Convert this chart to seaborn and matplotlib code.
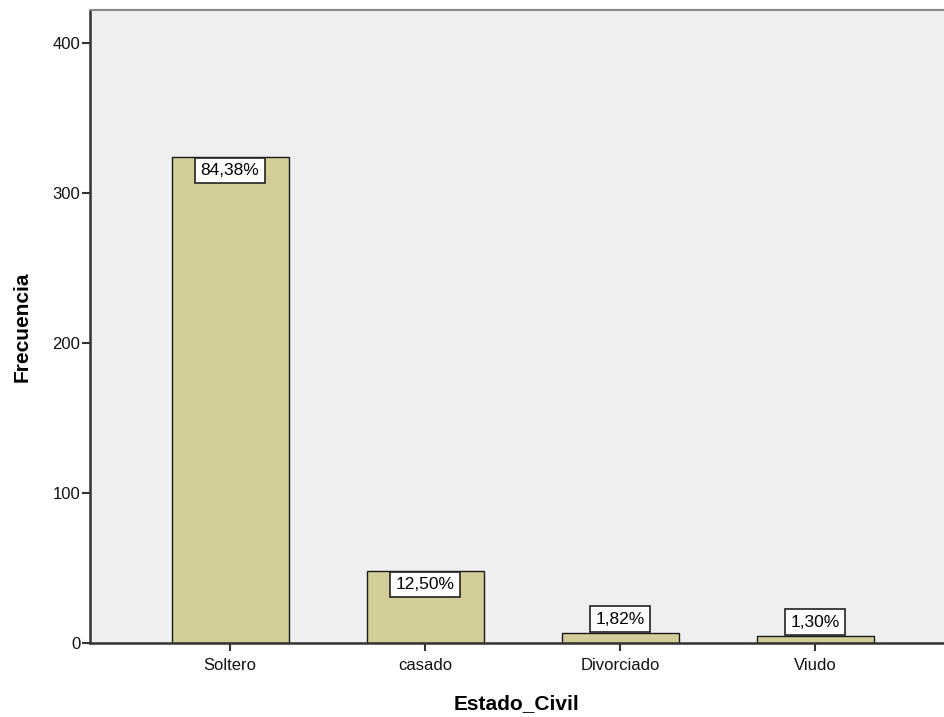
import matplotlib
matplotlib.use("Agg")
import matplotlib.pyplot as plt
import seaborn as sns
import pandas as pd

# Frequency of marital status
categorias = ["Soltero", "casado", "Divorciado", "Viudo"]
frecuencias = [324, 48, 7, 5]
porcentajes = ["84,38%", "12,50%", "1,82%", "1,30%"]
y_ticks = [0, 100, 200, 300, 400]

sns.set_theme(style="white")
plt.rcParams["font.family"] = ["Liberation Sans", "DejaVu Sans"]

df = pd.DataFrame({"Estado_Civil": categorias, "Frecuencia": frecuencias})

fig = plt.figure(figsize=(9.44, 7.17), dpi=100)
ax = fig.add_axes([0.0953, 0.1032, 0.9047, 0.8828])
ax.set_facecolor("#EFEFEF")

sns.barplot(data=df, x="Estado_Civil", y="Frecuencia", order=categorias,
            color="#D3CE97", saturation=1, width=0.6,
            edgecolor="#1a1a1a", linewidth=1.0, ax=ax)

ax.set_xlim(-0.718, 3.66)
ax.set_ylim(0, 422)
ax.set_yticks(y_ticks)
ax.set_yticklabels([str(t) for t in y_ticks])

# Percentage labels: inside the bar when it is tall enough, above otherwise
for i, (f, p) in enumerate(zip(frecuencias, porcentajes)):
    inside = f > 30
    ax.annotate(p, xy=(i, f), xytext=(0, -4.2 if inside else 4.2),
                textcoords="offset points", ha="center",
                va="top" if inside else "bottom", fontsize=12.5, color="black",
                bbox=dict(boxstyle="square,pad=0.3", fc="white", ec="#222222", lw=1.2))

ax.set_xlabel("Estado_Civil", fontsize=15, fontweight="bold", labelpad=15, color="black")
ax.set_ylabel("Frecuencia", fontsize=15, fontweight="bold", labelpad=15, color="black")

ax.tick_params(axis="both", which="both", direction="out", length=6, width=1.5,
               color="#333333", labelsize=12, labelcolor="#111111", pad=5,
               left=True, bottom=True)
ax.tick_params(axis="y", pad=1)

for side in ["left", "bottom"]:
    ax.spines[side].set_color("#333333")
    ax.spines[side].set_linewidth(1.8)
ax.spines["top"].set_color("#888888")
ax.spines["top"].set_linewidth(1.5)
ax.spines["right"].set_visible(False)

fig.savefig("out.png", dpi=100)
